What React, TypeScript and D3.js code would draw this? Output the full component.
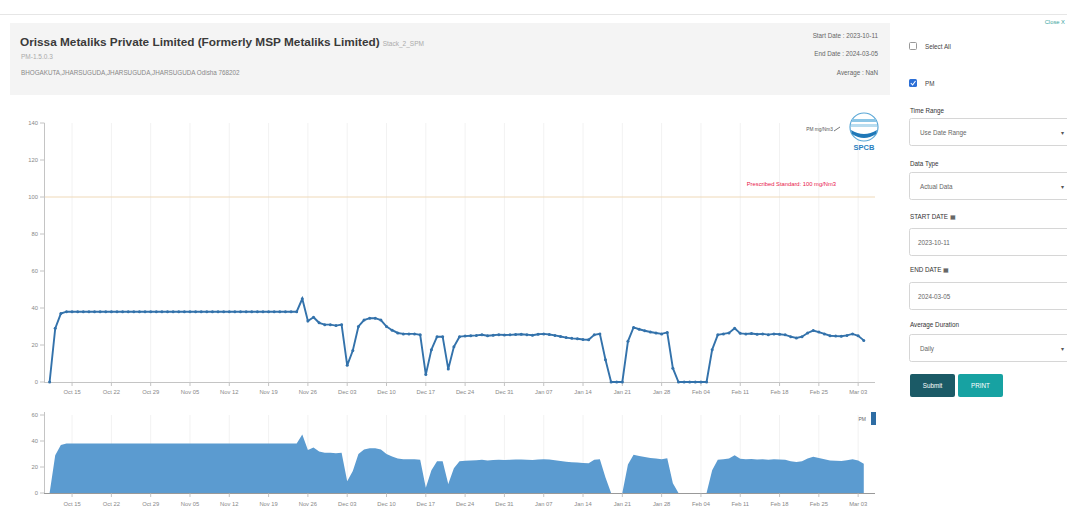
import React from "react";
import * as d3 from "d3";

const startDay = new Date(2023, 9, 11);
const pmValues: number[] = [
  0, 29, 37,
  38, 38, 38, 38, 38, 38, 38, 38, 38, 38, 38, 38, 38, 38, 38, 38, 38, 38, 38, 38, 38,
  38, 38, 38, 38, 38, 38, 38, 38, 38, 38, 38, 38, 38, 38, 38, 38, 38, 38, 38, 38, 38,
  45, 33, 35, 32, 31, 31, 30.5, 31, 9, 17, 30, 33.5, 34.5, 34.5, 33.5, 30, 28, 26.5, 26, 26, 26, 25.5,
  4, 17.5, 24.5, 24.5, 7, 19, 24.5,
  24.8, 25, 25.2, 25.5, 25, 25.3, 25.6, 25.4, 25.5, 25.7, 25.8, 25.6, 25.3, 25.8, 26, 25.7, 25.2, 24.6, 24, 23.6, 23.4, 23, 22.8,
  25.5, 26, 12, 0, 0, 0, 22, 29.5, 28.5, 27.7, 27, 26.5, 26, 26.8, 7.5,
  0, 0, 0, 0, 0, 0,
  17.5, 25.5, 26, 26.5, 29, 26.3, 26, 26.2, 25.8, 26, 25.6, 26, 25.8, 25.5, 24.5, 23.8, 24.5,
  26.5, 27.8, 27, 26, 25, 24.8, 24.7, 25.2, 26, 25, 22.5,
];
const topTicks = [0, 20, 40, 60, 80, 100, 120, 140];
const bottomTicks = [0, 20, 40, 60];
const standardValue = 100;

const data = pmValues.map((v, i) => ({ date: d3.timeDay.offset(startDay, i), value: v }));

const FONT = "Arial, 'Liberation Sans', Helvetica, sans-serif";

export default function App() {
  const x = d3.scaleTime().domain([new Date(2023, 9, 10), new Date(2024, 2, 6)]).range([44, 875]);
  const yTop = d3.scaleLinear().domain([0, 140]).range([382, 123]);
  const yBot = d3.scaleLinear().domain([0, 60]).range([493, 415]);
  const xTicks = x.ticks(d3.timeWeek.every(1) as any);
  const fmt = d3.timeFormat("%b %d");

  const line = d3.line<any>().x((d) => x(d.date)).y((d) => yTop(d.value));
  const area = d3.area<any>().x((d) => x(d.date)).y0(yBot(0)).y1((d) => yBot(d.value));

  const lineColor = "#3372ab";
  const tickColor = "#888";

  return (
    <div style={{ position: "absolute", left: 0, top: 0 }}>
      <svg width={1067} height={525} style={{ display: "block", fontFamily: FONT }}>
        <rect x={0} y={0} width={1067} height={525} fill="#fff" />
        <line x1={0} x2={1067} y1={14.5} y2={14.5} stroke="#e6e6e6" />
        {/* header box */}
        <rect x={10} y={23} width={880} height={72} fill="#f4f4f4" />
        <text x={20} y={46} fontSize={11.8} fontWeight="bold" fill="#3a3a3a">
          Orissa Metaliks Private Limited (Formerly MSP Metaliks Limited)
          <tspan fontSize={6.5} fontWeight="normal" fill="#aaa" dx={3}>Stack_2_SPM</tspan>
        </text>
        <text x={21} y={59} fontSize={6.5} fill="#aaa">PM-1.5.0.3</text>
        <text x={21} y={75} fontSize={6.3} fill="#888">BHOGAKUTA,JHARSUGUDA,JHARSUGUDA,JHARSUGUDA Odisha 768202</text>
        <text x={878} y={38} fontSize={6.3} fill="#666" textAnchor="end">Start Date : 2023-10-11</text>
        <text x={878} y={56} fontSize={6.3} fill="#666" textAnchor="end">End Date : 2024-03-05</text>
        <text x={878} y={75} fontSize={6.3} fill="#666" textAnchor="end">Average : NaN</text>

        {/* top chart grid */}
        {xTicks.map((t, i) => (
          <line key={"g" + i} x1={x(t)} x2={x(t)} y1={123} y2={382} stroke="#f2f2f2" />
        ))}
        {/* threshold */}
        <line x1={44} x2={875} y1={yTop(standardValue)} y2={yTop(standardValue)} stroke="#efd9b8" strokeWidth={1} />
        <text x={836} y={186} fontSize={5.8} fill="#e8174a" textAnchor="end">Prescribed Standard: {standardValue} mg/Nm3</text>

        {/* y axis top */}
        <line x1={44.5} x2={44.5} y1={123} y2={382} stroke="#c4c4c4" />
        {topTicks.map((t) => (
          <g key={"yt" + t}>
            <line x1={40} x2={44.5} y1={yTop(t)} y2={yTop(t)} stroke="#c4c4c4" />
            <text x={38} y={yTop(t) + 2} fontSize={5.8} fill={tickColor} textAnchor="end">{t}</text>
          </g>
        ))}
        {/* x axis top */}
        <line x1={44} x2={875} y1={382.5} y2={382.5} stroke="#c4c4c4" />
        {xTicks.map((t, i) => (
          <g key={"xt" + i}>
            <line x1={x(t)} x2={x(t)} y1={382.5} y2={386} stroke="#c4c4c4" />
            <text x={x(t)} y={394} fontSize={5.8} fill={tickColor} textAnchor="middle">{fmt(t)}</text>
          </g>
        ))}
        {/* line */}
        <path d={line(data) || ""} fill="none" stroke={lineColor} strokeWidth={1.9} />
        {data.map((d, i) => (
          <circle key={"c" + i} cx={x(d.date)} cy={yTop(d.value)} r={1.5} fill={lineColor} />
        ))}

        {/* legend + logo */}
        <line x1={834} x2={840} y1={131} y2={127} stroke="#555" strokeWidth={0.8} />
        <text x={833} y={131} fontSize={4.8} fill="#555" textAnchor="end">PM mg/Nm3</text>
        <g>
          <circle cx={864} cy={127} r={14} fill="#fff" stroke="#5aa7d6" strokeWidth={1.2} />
          <rect x={852} y={119} width={24} height={3} fill="#8cc6e6" />
          <rect x={851} y={124} width={26} height={3} fill="#b8dcef" />
          <path d="M851,130 Q864,138 877,130 L876,134 Q864,142 852,134 Z" fill="#1f78b8" />
          <text x={864} y={150} fontSize={7.5} fontWeight="bold" fill="#2b7fc0" textAnchor="middle">SPCB</text>
        </g>

        {/* bottom chart */}
        {xTicks.map((t, i) => (
          <line key={"bg" + i} x1={x(t)} x2={x(t)} y1={415} y2={493} stroke="#f2f2f2" />
        ))}
        <path d={area(data) || ""} fill="#5b9bd0" />
        <line x1={44.5} x2={44.5} y1={412} y2={493} stroke="#c4c4c4" />
        {bottomTicks.map((t) => (
          <g key={"yb" + t}>
            <line x1={40} x2={44.5} y1={yBot(t)} y2={yBot(t)} stroke="#c4c4c4" />
            <text x={38} y={yBot(t) + 2} fontSize={5.8} fill={tickColor} textAnchor="end">{t}</text>
          </g>
        ))}
        <line x1={44} x2={875} y1={493.5} y2={493.5} stroke="#999" />
        {xTicks.map((t, i) => (
          <g key={"xb" + i}>
            <line x1={x(t)} x2={x(t)} y1={493.5} y2={497} stroke="#c4c4c4" />
            <text x={x(t)} y={506} fontSize={5.8} fill={tickColor} textAnchor="middle">{fmt(t)}</text>
          </g>
        ))}
        <text x={866} y={421} fontSize={5} fill="#666" textAnchor="end">PM</text>
        <rect x={871} y={412} width={5} height={13} fill="#2e6da4" />

        {/* right panel */}
        <text x={1065} y={24} fontSize={5.8} fill="#3aa6a0" textAnchor="end">Close X</text>
        <rect x={909.5} y={42.5} width={7} height={7} fill="#fff" stroke="#999" rx={1} />
        <text x={925} y={49} fontSize={6.3} fill="#444">Select All</text>
        <rect x={909} y={79} width={8} height={8} fill="#2c6fd6" rx={1.5} />
        <path d="M910.8,83 L912.6,85 L915.5,81" stroke="#fff" strokeWidth={1.1} fill="none" />
        <text x={925} y={86} fontSize={6.3} fill="#444">PM</text>

        <text x={910} y={113} fontSize={6.3} fill="#333">Time Range</text>
        <rect x={909.5} y={118.5} width={160} height={27} fill="#fff" stroke="#d6d6d6" rx={2} />
        <text x={920} y={135} fontSize={6.3} fill="#666">Use Date Range</text>
        <text x={1062} y={135} fontSize={6} fill="#555" textAnchor="middle">▾</text>

        <text x={910} y={166} fontSize={6.3} fill="#333">Data Type</text>
        <rect x={909.5} y={172.5} width={160} height={27} fill="#fff" stroke="#d6d6d6" rx={2} />
        <text x={920} y={189} fontSize={6.3} fill="#666">Actual Data</text>
        <text x={1062} y={189} fontSize={6} fill="#555" textAnchor="middle">▾</text>

        <text x={910} y={219} fontSize={6.3} fill="#333">START DATE ▦</text>
        <rect x={909.5} y={228.5} width={160} height={27} fill="#fff" stroke="#d6d6d6" rx={2} />
        <text x={918} y={245} fontSize={6.3} fill="#666">2023-10-11</text>

        <text x={910} y={272} fontSize={6.3} fill="#333">END DATE ▦</text>
        <rect x={909.5} y={282.5} width={160} height={27} fill="#fff" stroke="#d6d6d6" rx={2} />
        <text x={918} y={299} fontSize={6.3} fill="#666">2024-03-05</text>

        <text x={910} y={327} fontSize={6.3} fill="#333">Average Duration</text>
        <rect x={909.5} y={334.5} width={160} height={27} fill="#fff" stroke="#d6d6d6" rx={2} />
        <text x={920} y={351} fontSize={6.3} fill="#666">Daily</text>
        <text x={1062} y={351} fontSize={6} fill="#555" textAnchor="middle">▾</text>

        <rect x={910} y={374} width={45} height={23} fill="#1b5a66" rx={2} />
        <text x={932.5} y={388} fontSize={6.3} fill="#fff" textAnchor="middle">Submit</text>
        <rect x={958} y={374} width={45} height={23} fill="#17a2a2" rx={2} />
        <text x={980.5} y={388} fontSize={6.3} fill="#fff" textAnchor="middle">PRINT</text>
      </svg>
    </div>
  );
}
